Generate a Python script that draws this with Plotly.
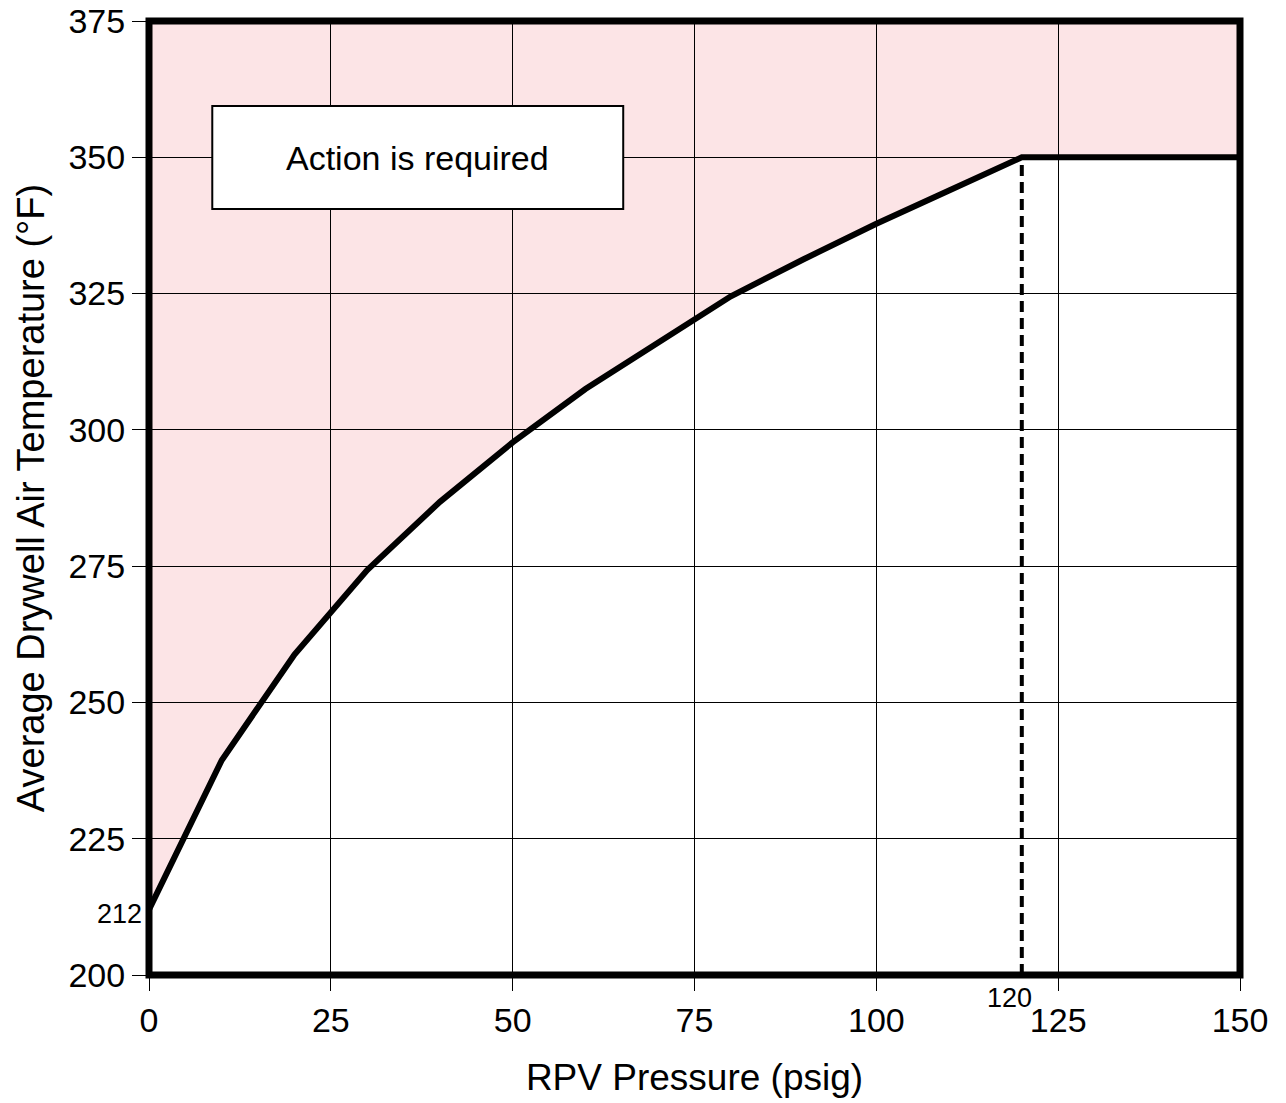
import plotly.graph_objects as go

# Data
pressure = [0, 10, 20, 30, 40, 50, 60, 70, 80, 90, 100, 110, 120, 150]
temperature = [212, 239.4, 258.8, 274.3, 286.8, 297.7, 307.5, 316.0, 324.5, 331.3, 337.8, 343.9, 350, 350]
dashed_x = [120, 120]
dashed_y = [200, 350]
x_ticks = [0, 25, 50, 75, 100, 125, 150]
y_ticks = [200, 225, 250, 275, 300, 325, 350, 375]
x_range = [0, 150]
y_range = [200, 375]
box_x = [8.7, 65.2]
box_y = [340.5, 359.4]
box_text = "Action is required"

FONT = "Liberation Sans, Arial, sans-serif"
PINK = "rgb(252,228,230)"

fig = go.Figure()

# Pink "action required" region above the curve (shape below grid)
path = "M " + " L ".join(f"{x},{y}" for x, y in zip(pressure, temperature))
path += f" L {x_range[1]},{y_range[1]} L {x_range[0]},{y_range[1]} Z"
fig.add_shape(type="path", path=path, xref="x", yref="y",
              fillcolor=PINK, line=dict(width=0), layer="below")

# Dashed vertical line at 120 psig
fig.add_trace(go.Scatter(x=dashed_x, y=dashed_y, mode="lines",
                         line=dict(color="black", width=4, dash="11px,6px"),
                         hoverinfo="skip", showlegend=False, cliponaxis=False))

# Limit curve
fig.add_trace(go.Scatter(x=pressure, y=temperature, mode="lines",
                         line=dict(color="black", width=6),
                         hoverinfo="skip", showlegend=False))

# Label box
fig.add_shape(type="rect", xref="x", yref="y",
              x0=box_x[0], x1=box_x[1], y0=box_y[0], y1=box_y[1],
              fillcolor="white", line=dict(color="black", width=2), layer="above")
fig.add_annotation(x=(box_x[0] + box_x[1]) / 2, y=(box_y[0] + box_y[1]) / 2,
                   xref="x", yref="y", text=box_text, showarrow=False,
                   font=dict(family=FONT, size=34, color="black"))

# Special tick labels
SMALL = "Liberation Sans Narrow, Arial Narrow, Liberation Sans, sans-serif"
fig.add_annotation(x=0, y=212, xref="x", yref="y", text="212", showarrow=False,
                   xanchor="right", yanchor="middle", xshift=-5, yshift=-4,
                   font=dict(family=SMALL, size=27, color="black"))
fig.add_annotation(x=120, y=0, xref="x", yref="paper", text="120", showarrow=False,
                   xanchor="center", yanchor="top", xshift=-12, yshift=-6,
                   font=dict(family=SMALL, size=27, color="black"))

# Frame (paper-referenced so it is not clipped, centred on the plot edge)
fig.add_shape(type="rect", xref="paper", yref="paper",
              x0=0, x1=1, y0=0, y1=1,
              line=dict(color="black", width=7), layer="above")

axis_common = dict(
    showgrid=True, gridcolor="black", gridwidth=1,
    ticks="outside", tickwidth=1, tickcolor="black",
    showline=False, zeroline=False, automargin=False,
    ticklabeloverflow="allow",
    tickfont=dict(family=FONT, size=34, color="black"),
)

fig.update_xaxes(range=x_range, tickvals=x_ticks, ticklen=15, **axis_common,
                 title=dict(text="RPV Pressure (psig)", font=dict(family=FONT, size=37, color="black"), standoff=26))
fig.update_yaxes(range=y_range, tickvals=y_ticks, ticklen=16, **axis_common,
                 title=dict(text="Average Drywell Air Temperature (°F)", font=dict(family=FONT, size=38, color="black"), standoff=12))

fig.update_layout(
    width=1286, height=1103,
    margin=dict(l=149, r=46, t=21, b=128),
    paper_bgcolor="white", plot_bgcolor="white",
    showlegend=False,
)

fig.write_html("out.html",
               config={"displayModeBar": False, "staticPlot": True},
               post_script="document.body.style.margin='0';document.body.style.overflow='hidden';")
